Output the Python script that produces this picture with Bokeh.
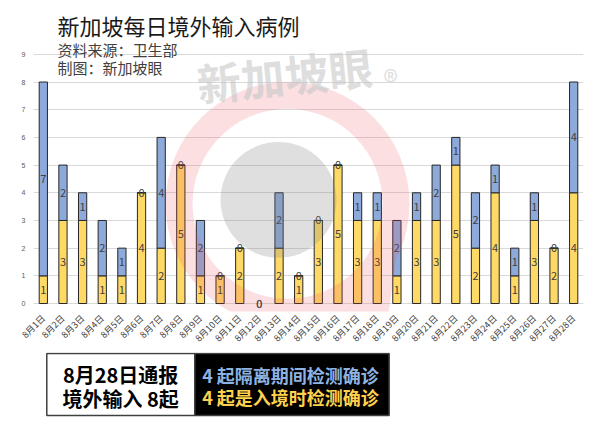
import math
import numpy as np
from bokeh.plotting import figure
from bokeh.models import ColumnDataSource, Range1d, FixedTicker, Label
from bokeh.layouts import column
from bokeh.embed import file_html
from bokeh.resources import INLINE
from bokeh.core.properties import value

# ---------------- data ----------------
days = ["8月1日", "8月2日", "8月3日", "8月4日", "8月5日", "8月6日", "8月7日",
        "8月8日", "8月9日", "8月10日", "8月11日", "8月12日", "8月13日", "8月14日",
        "8月15日", "8月16日", "8月17日", "8月18日", "8月19日", "8月20日", "8月21日",
        "8月22日", "8月23日", "8月24日", "8月25日", "8月26日", "8月27日", "8月28日"]
entry = [1, 3, 3, 1, 1, 4, 2, 5, 1, 1, 2, 0, 2, 1, 3, 5, 3, 3, 1, 3, 3, 5, 2, 4, 1, 3, 2, 4]
quarantine = [7, 2, 1, 2, 1, 0, 4, 0, 2, 0, 0, 0, 2, 0, 0, 0, 1, 1, 2, 1, 2, 1, 2, 1, 1, 1, 0, 4]
y_ticks = [0, 1, 2, 3, 4, 5, 6, 7, 8, 9]

title_text = "新加坡每日境外输入病例"
source_text = "资料来源：卫生部"
maker_text = "制图：新加坡眼"
report_day = "8月28日"

FONT = "Noto Sans CJK SC"
YELLOW = "#ffd966"
BLUE = "#8eaadb"

idx = list(range(len(days)))
src = ColumnDataSource(dict(
    x=idx,
    entry=entry,
    quarantine=quarantine,
    ye=[e / 2 for e in entry],
    yq=[e + q / 2 for e, q in zip(entry, quarantine)],
    te=[str(e) for e in entry],
    tq=[str(q) for q in quarantine],
    la=[0.0 if e + q == 0 else 1.0 for e, q in zip(entry, quarantine)],
))

# ---------------- main chart ----------------
# frame covers canvas y 0..312; value 0 sits at y=304 and 9 at y=54
PX_PER_UNIT = 250 / 9
FRAME_BOTTOM = 312
MAIN_H = 352
p = figure(x_range=Range1d(-0.5, len(days) - 0.5),
           y_range=Range1d(-(FRAME_BOTTOM - 304) / PX_PER_UNIT, 9 + 54 / PX_PER_UNIT),
           width=600, height=MAIN_H, output_backend="svg", toolbar_location=None,
           min_border_left=33, min_border_right=17, min_border_top=0,
           min_border_bottom=MAIN_H - FRAME_BOTTOM,
           background_fill_color="white", border_fill_color="white")
p.extra_x_ranges = {"px": Range1d(33, 583)}
p.extra_y_ranges = {"px": Range1d(FRAME_BOTTOM, 0)}
p.outline_line_color = None

p.vbar_stack(["entry", "quarantine"], x="x", width=0.42, source=src,
             fill_color=[YELLOW, BLUE], line_color="#262626", line_width=1,
             line_alpha="la")

for ycol, tcol in (("ye", "te"), ("yq", "tq")):
    p.text(x="x", y=ycol, text=tcol, source=src, text_align="center",
           text_baseline="middle", text_font=value(FONT), text_font_size="11px",
           text_color="#404040")

# axes
p.yaxis.ticker = FixedTicker(ticks=y_ticks)
p.yaxis.major_label_text_font_size = "7px"
p.yaxis.major_label_text_color = "#595959"
p.yaxis.major_tick_line_color = None
p.yaxis.minor_tick_line_color = None
p.yaxis.major_tick_out = 0
p.yaxis.major_tick_in = 0
p.yaxis.minor_tick_out = 0
p.yaxis.axis_line_color = None
p.yaxis.major_label_standoff = 8

p.xaxis.ticker = FixedTicker(ticks=idx)
p.xaxis.major_label_overrides = {i: d for i, d in zip(idx, days)}
p.xaxis.major_label_orientation = math.pi / 4
p.xaxis.major_label_text_font_size = "9px"
p.xaxis.major_label_text_font = FONT
p.xaxis.major_label_text_color = "#404040"
p.xaxis.major_tick_line_color = None
p.xaxis.minor_tick_line_color = None
p.xaxis.major_tick_out = 0
p.xaxis.major_tick_in = 0
p.xaxis.minor_tick_out = 0
p.xaxis.axis_line_color = None
p.xaxis.major_label_standoff = 5

p.xgrid.grid_line_color = None
p.ygrid.grid_line_color = "#d9d9d9"
p.ygrid.grid_line_width = 1

# watermark logo (pixel coordinates via extra ranges)
p.annulus(x=[287], y=[204], inner_radius=95, outer_radius=122,
          fill_color="#e8505a", fill_alpha=0.18, line_color=None,
          x_range_name="px", y_range_name="px")
a0, a1 = math.radians(27), math.radians(79)
angs = np.linspace(a0, a1, 20)
tail_x = list(287 + 122 * np.cos(angs)) + [382]
tail_y = list(204 + 122 * np.sin(angs)) + [356]
p.patch(x=tail_x, y=tail_y, fill_color="#e8505a", fill_alpha=0.18, line_color=None,
        x_range_name="px", y_range_name="px")
p.circle(x=[278], y=[200], radius=58, fill_color="#808080", fill_alpha=0.25,
         line_color=None, x_range_name="px", y_range_name="px")

p.add_layout(Label(x=284, y=74, text="新加坡眼", angle=0.1, text_align="center",
                   text_baseline="middle", text_font=FONT, text_font_style="bold",
                   text_font_size="44px", text_color="#c8c8c8", text_alpha=0.6,
                   x_range_name="px", y_range_name="px"))
p.add_layout(Label(x=390, y=80, text="®", text_align="center", text_baseline="middle",
                   text_font=FONT, text_font_size="30px", text_color="#c8c8c8",
                   text_alpha=0.6, x_range_name="px", y_range_name="px"))

# titles
p.add_layout(Label(x=57, y=25, text=title_text, text_baseline="middle", text_font=FONT,
                   text_font_size="22px", text_color="#1a1a1a",
                   x_range_name="px", y_range_name="px"))
p.add_layout(Label(x=57, y=49, text=source_text, text_baseline="middle", text_font=FONT,
                   text_font_size="15px", text_color="#404040",
                   x_range_name="px", y_range_name="px"))
p.add_layout(Label(x=57, y=67, text=maker_text, text_baseline="middle", text_font=FONT,
                   text_font_size="15px", text_color="#404040",
                   x_range_name="px", y_range_name="px"))

# ---------------- summary boxes ----------------
BOX_H = 431 - MAIN_H
off = MAIN_H + 4  # observed canvas y of this figure's top edge
q = figure(width=600, height=BOX_H, x_range=Range1d(0, 600), y_range=Range1d(BOX_H, 0),
           min_border=0, toolbar_location=None, output_backend="svg",
           x_axis_location=None, y_axis_location=None)
q.grid.grid_line_color = None
q.outline_line_color = None

q.quad(left=[14.5], right=[176], top=[357 - off], bottom=[419 - off], fill_color="white",
       line_color="#404040", line_width=1.5)
q.quad(left=[176], right=[388], top=[357 - off], bottom=[419 - off], fill_color="black",
       line_color="#404040", line_width=1.5)

total = entry[-1] + quarantine[-1]
q.text(x=[95, 95], y=[377.5 - off, 401.5 - off],
       text=[f"{report_day}通报", f"境外输入 {total}起"],
       text_align="center", text_baseline="middle", text_font=value(FONT),
       text_font_style="bold", text_font_size="20px", text_color="black")
q.text(x=[184], y=[378 - off], text=[f"{quarantine[-1]} 起隔离期间检测确诊"], text_align="left",
       text_baseline="middle", text_font=value(FONT), text_font_style="bold",
       text_font_size="18px", text_color="#8db3e2")
q.text(x=[184], y=[400.5 - off], text=[f"{entry[-1]} 起是入境时检测确诊"], text_align="left",
       text_baseline="middle", text_font=value(FONT), text_font_style="bold",
       text_font_size="18px", text_color="#ffd24d")

layout = column(p, q, spacing=0)
open("out.html", "w").write(file_html(layout, INLINE))
